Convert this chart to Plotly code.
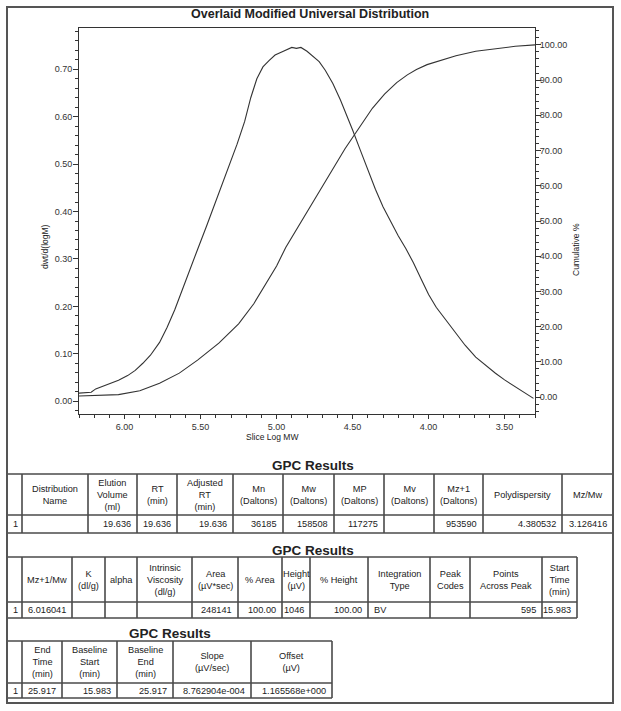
import plotly.graph_objects as go

W, H = 621, 711
FONT = "Arial, Liberation Sans, sans-serif"
INK = "#333333"
GRID = "#4a4a4a"

# distribution curve: slice log MW vs dwt/d(logM)
log_mw = [6.30, 6.26, 6.22, 6.19, 6.15, 6.10, 6.04, 5.98, 5.93, 5.88, 5.83, 5.77,
          5.72, 5.67, 5.62, 5.57, 5.52, 5.46, 5.41, 5.36, 5.31, 5.26, 5.21, 5.17,
          5.13, 5.09, 5.05, 5.01, 4.97, 4.93, 4.90, 4.87, 4.84, 4.80, 4.76, 4.72,
          4.68, 4.63, 4.58, 4.54, 4.50, 4.45, 4.40, 4.35, 4.30, 4.25, 4.20, 4.15,
          4.10, 4.05, 4.00, 3.95, 3.89, 3.82, 3.76, 3.69, 3.62, 3.56, 3.50, 3.43,
          3.37, 3.31]
dwt_dlogm = [0.017, 0.018, 0.019, 0.026, 0.031, 0.036, 0.044, 0.054, 0.065, 0.080, 0.097, 0.124,
             0.156, 0.193, 0.234, 0.276, 0.320, 0.370, 0.413, 0.455, 0.498, 0.542, 0.590, 0.640,
             0.680, 0.705, 0.718, 0.730, 0.736, 0.742, 0.746, 0.744, 0.746, 0.738, 0.728, 0.716,
             0.698, 0.670, 0.635, 0.605, 0.572, 0.530, 0.488, 0.447, 0.410, 0.378, 0.349, 0.322,
             0.292, 0.258, 0.225, 0.198, 0.172, 0.143, 0.118, 0.093, 0.074, 0.059, 0.045, 0.030,
             0.018, 0.006]

# cumulative % curve
cum_log_mw = [6.30, 6.17, 6.04, 5.90, 5.77, 5.64, 5.52, 5.38, 5.25, 5.15, 5.07, 5.00,
              4.94, 4.86, 4.78, 4.70, 4.63, 4.55, 4.48, 4.42, 4.37, 4.29, 4.21, 4.14,
              4.08, 4.01, 3.94, 3.82, 3.69, 3.56, 3.43, 3.30]
cum_pct = [0.3, 0.4, 0.7, 1.8, 3.9, 6.8, 10.5, 15.3, 20.8, 26.5, 32.0, 37.2,
           42.5, 48.3, 54.0, 60.0, 65.0, 70.5, 75.0, 78.8, 82.0, 86.0, 89.3, 91.5,
           93.0, 94.4, 95.4, 96.9, 98.2, 99.0, 99.6, 100.0]

x_ticks = [6.0, 5.5, 5.0, 4.5, 4.0, 3.5]
left_ticks = [0.0, 0.1, 0.2, 0.3, 0.4, 0.5, 0.6, 0.7]
right_ticks = [0, 10, 20, 30, 40, 50, 60, 70, 80, 90, 100]

# GPC results tables
t1_head = ["", "Distribution<br>Name", "Elution<br>Volume<br>(ml)", "RT<br>(min)",
           "Adjusted<br>RT<br>(min)", "Mn<br>(Daltons)", "Mw<br>(Daltons)", "MP<br>(Daltons)",
           "Mv<br>(Daltons)", "Mz+1<br>(Daltons)", "Polydispersity", "Mz/Mw"]
t1_vals = ["1", "", "19.636", "19.636", "19.636", "36185", "158508", "117275", "",
           "953590", "4.380532", "3.126416"]

t2_head = ["", "Mz+1/Mw", "K<br>(dl/g)", "alpha", "Intrinsic<br>Viscosity<br>(dl/g)",
           "Area<br>(µV*sec)", "% Area", "Height<br>(µV)", "% Height", "Integration<br>Type",
           "Peak<br>Codes", "Points<br>Across Peak", "Start<br>Time<br>(min)"]
t2_vals = ["1", "6.016041", "", "", "", "248141", "100.00", "1046", "100.00", "BV", "",
           "595", "15.983"]

t3_head = ["", "End<br>Time<br>(min)", "Baseline<br>Start<br>(min)", "Baseline<br>End<br>(min)",
           "Slope<br>(µV/sec)", "Offset<br>(µV)"]
t3_vals = ["1", "25.917", "15.983", "25.917", "8.762904e-004", "1.165568e+000"]

# table geometry (page pixels)
t1_edges = [7, 22, 88, 137, 177, 233, 283, 334, 384, 434, 483, 562, 613]
t2_edges = [7, 22, 72, 105, 137, 192, 238, 282, 310, 368, 430, 470, 542, 577]
t3_edges = [7, 22, 62, 117, 173, 251, 332]


def px(x):
    return x / W


def py(y):
    return 1 - y / H


fig = go.Figure()

fig.add_trace(go.Scatter(x=log_mw, y=dwt_dlogm, mode="lines",
                         line=dict(color=INK, width=1.1), showlegend=False, hoverinfo="skip"))
fig.add_trace(go.Scatter(x=cum_log_mw, y=cum_pct, mode="lines", yaxis="y2",
                         line=dict(color=INK, width=1.1), showlegend=False, hoverinfo="skip"))


def hline(x0, x1, y, width=1.6):
    fig.add_shape(type="line", xref="paper", yref="paper", x0=px(x0), x1=px(x1),
                  y0=py(y), y1=py(y), line=dict(color=GRID, width=width))


def vline(x, y0, y1, width=1.6):
    fig.add_shape(type="line", xref="paper", yref="paper", x0=px(x), x1=px(x),
                  y0=py(y0), y1=py(y1), line=dict(color=GRID, width=width))


def label(x, y, text, anchor="center", size=9.2, bold=False):
    fig.add_annotation(x=px(x), y=py(y), xref="paper", yref="paper",
                       text=f"<b>{text}</b>" if bold else text, showarrow=False,
                       xanchor=anchor, yanchor="middle", align="center",
                       font=dict(family=FONT, size=size, color="#222222"))


def draw_table(head, vals, edges, top, head_h, row_h, aligns):
    mid = top + head_h
    bottom = mid + row_h
    for y in (top, mid, bottom):
        hline(edges[0], edges[-1], y)
    for x in edges:
        vline(x, top, bottom)
    for i, (h, v) in enumerate(zip(head, vals)):
        left, right = edges[i], edges[i + 1]
        if h:
            label((left + right) / 2, top + head_h / 2, h)
        if v:
            if aligns[i] == "left":
                label(left + 4, mid + row_h / 2, v, anchor="left")
            else:
                label(right - 4, mid + row_h / 2, v, anchor="right")


draw_table(t1_head, t1_vals, t1_edges, 474, 41, 18,
           ["left", "left", "right", "left", "right", "right", "right", "right", "right",
            "right", "right", "right"])
draw_table(t2_head, t2_vals, t2_edges, 557, 45, 16,
           ["left", "left", "right", "right", "right", "right", "right", "right", "right",
            "left", "right", "right", "right"])
draw_table(t3_head, t3_vals, t3_edges, 641, 42, 15,
           ["left", "left", "right", "right", "right", "right"])

axis_common = dict(showgrid=False, zeroline=False, showline=True, linecolor=INK, linewidth=1,
                   ticks="outside", tickcolor=INK, tickwidth=1,
                   tickfont=dict(family=FONT, size=9, color=INK))

fig.update_layout(
    width=W, height=H, autosize=False,
    margin=dict(l=0, r=0, t=0, b=0),
    paper_bgcolor="white", plot_bgcolor="white",
    xaxis=dict(domain=[px(79), px(535)], range=[6.30, 3.30], tickvals=x_ticks,
               tickformat=".2f", mirror=True, ticklen=4,
               minor=dict(dtick=0.1, ticks="outside", ticklen=3, tickcolor=INK),
               **axis_common),
    yaxis=dict(domain=[py(414), py(28)], range=[-0.027, 0.787], tickvals=left_ticks,
               tickformat=".2f", ticklen=5, ticklabelstandoff=-1,
               minor=dict(dtick=0.02, ticks="outside", ticklen=3, tickcolor=INK),
               **axis_common),
    yaxis2=dict(overlaying="y", side="right", range=[-4.8, 104.8], tickvals=right_ticks,
                tickformat=".2f", ticklen=5, ticklabelstandoff=-3,
                minor=dict(dtick=2, ticks="outside", ticklen=3, tickcolor=INK),
                **axis_common),
    font=dict(family=FONT, color=INK),
)

# page frame
fig.add_shape(type="rect", xref="paper", yref="paper", x0=px(7), x1=px(613), y0=py(703), y1=py(7),
              line=dict(color="#555555", width=2))

label(310, 14, "Overlaid Modified Universal Distribution", size=12.5, bold=True)
label(272, 437, "Slice Log MW", size=8.5)
label(313, 466, "GPC Results", size=13.5, bold=True)
label(313, 550, "GPC Results", size=13.5, bold=True)
label(170, 633, "GPC Results", size=13.5, bold=True)
for x, y, t in [(38, 247, "dwt/d(logM)"), (583, 250, "Cumulative %")]:
    fig.add_annotation(x=px(x), y=py(y), xref="paper", yref="paper", text=t, showarrow=False,
                       textangle=-90, font=dict(family=FONT, size=8.5, color="#222222"))

fig.write_html("out.html", config={"displayModeBar": False},
               post_script="document.body.style.margin='0';")
